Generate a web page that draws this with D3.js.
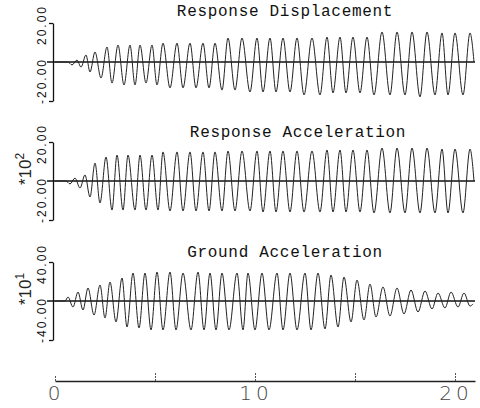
<!DOCTYPE html>
<html><head><meta charset="UTF-8"><title>Response time histories</title>
<script src="https://cdnjs.cloudflare.com/ajax/libs/d3/7.8.5/d3.min.js"></script>
<style>
  body, html { margin: 0; padding: 0; background: #fff; }
  svg { display: block; }
  .title { font-family: "Liberation Mono", "DejaVu Sans Mono", monospace; font-size: 16px; letter-spacing: 0.7px; fill: #111; }
  .ylab { font-family: "Liberation Sans", Arial, sans-serif; font-size: 12px; letter-spacing: 2px; fill: #111; }
  .mult { font-family: "Liberation Sans", Arial, sans-serif; font-size: 17px; fill: #222; }
  .xlab { font-family: "DejaVu Sans", sans-serif; font-size: 20px; font-weight: 200; letter-spacing: 4px; fill: #444; }
</style>
</head>
<body>
<svg id="chart" width="480" height="408"></svg>
<script>
// extremes of each trace: time (s) and value
const dispT = [0, 0.65, 0.85, 1.1, 1.3, 1.55, 1.75, 2.0, 2.3, 2.6, 2.85, 3.15, 3.45, 3.75, 4.0, 4.25, 4.55, 4.85, 5.1, 5.4, 5.75, 6.1, 6.4, 6.75, 7.05, 7.4, 7.7, 8.0, 8.35, 8.65, 9.0, 9.35, 9.75, 10.1, 10.4, 10.75, 11.05, 11.4, 11.75, 12.1, 12.45, 12.85, 13.25, 13.6, 13.9, 14.25, 14.55, 14.9, 15.25, 15.6, 15.95, 16.35, 16.75, 17.1, 17.5, 17.85, 18.25, 18.6, 19.0, 19.35, 19.65, 20.0, 20.4, 20.75, 20.95];
const dispV = [0, 0, -1.5, 1.0, -2.6, 3.6, -5.1, 5.1, -8.2, 7.7, -10.8, 8.7, -11.8, 8.7, -11.8, 8.7, -10.8, 8.7, -11.8, 9.7, -13.3, 9.7, -13.3, 9.7, -13.3, 9.7, -13.3, 9.7, -14.4, 12.3, -14.4, 12.3, -15.4, 12.3, -15.4, 12.3, -15.4, 12.3, -15.4, 12.3, -16.9, 12.3, -16.9, 12.8, -15.9, 12.8, -15.9, 12.8, -15.9, 12.8, -16.9, 15.4, -16.9, 15.4, -16.9, 15.4, -17.9, 15.4, -16.9, 14.9, -16.9, 14.9, -16.9, 14.9, 0];

const accT = [0, 0.55, 0.75, 1.0, 1.25, 1.5, 1.75, 2.0, 2.25, 2.55, 2.85, 3.1, 3.4, 3.65, 4.0, 4.25, 4.55, 4.85, 5.15, 5.4, 5.75, 6.1, 6.4, 6.75, 7.05, 7.4, 7.7, 8.0, 8.35, 8.65, 9.0, 9.35, 9.75, 10.1, 10.4, 10.75, 11.05, 11.4, 11.75, 12.1, 12.45, 12.85, 13.25, 13.6, 13.9, 14.25, 14.55, 14.9, 15.25, 15.6, 15.95, 16.35, 16.75, 17.1, 17.5, 17.85, 18.25, 18.6, 19.0, 19.35, 19.65, 20.0, 20.4, 20.75, 20.95];
const accV = [0, 0, -1.5, 1.5, -3.6, 3.1, -8.2, 9.2, -11.3, 12.3, -14.9, 13.3, -14.9, 13.3, -14.9, 13.3, -14.9, 13.3, -14.9, 14.9, -15.4, 14.9, -15.4, 14.9, -15.4, 14.9, -15.4, 14.9, -15.4, 15.4, -15.4, 15.4, -15.4, 15.4, -15.9, 15.4, -15.9, 15.4, -15.9, 15.4, -15.9, 15.4, -15.9, 15.9, -15.9, 15.9, -15.9, 15.9, -15.9, 15.9, -16.4, 16.9, -16.4, 16.9, -16.4, 16.9, -16.4, 16.9, -16.4, 16.4, -16.4, 16.4, -16.4, 16.4, 0];

const gndT = [0, 0.5, 0.65, 0.9, 1.15, 1.4, 1.65, 1.95, 2.25, 2.5, 2.75, 3.05, 3.35, 3.6, 3.9, 4.2, 4.5, 4.8, 5.1, 5.4, 5.75, 6.05, 6.4, 6.8, 7.15, 7.45, 7.75, 8.05, 8.35, 8.7, 9.1, 9.4, 9.65, 10.0, 10.35, 10.7, 11.1, 11.4, 11.75, 12.1, 12.5, 12.8, 13.15, 13.5, 13.8, 14.15, 14.45, 14.8, 15.1, 15.45, 15.75, 16.05, 16.4, 16.75, 17.1, 17.45, 17.8, 18.15, 18.5, 18.85, 19.15, 19.5, 19.8, 20.15, 20.45, 20.75, 20.9];
const gndV = [0, 0, 4.1, -6.2, 9.2, -9.2, 13.3, -14.4, 16.4, -17.4, 19.5, -21.5, 23.6, -26.7, 28.7, -27.7, 28.7, -29.7, 29.7, -29.7, 29.7, -29.7, 28.7, -29.7, 29.7, -29.7, 28.7, -29.7, 28.7, -29.7, 28.7, -29.7, 28.7, -29.7, 28.7, -29.7, 28.7, -29.7, 28.7, -29.7, 28.7, -29.7, 28.7, -28.7, 26.7, -26.7, 24.6, -21.5, 21.5, -19.5, 17.4, -16.4, 14.4, -15.4, 13.3, -13.3, 11.3, -11.3, 10.3, -8.2, 8.2, -7.2, 9.2, -6.2, 8.2, -5.2, -3];

const titles = ["Response Displacement", "Response Acceleration", "Ground Acceleration"];
const yLimits = [20, 20, 40];
const yTickLabels = [["20.00", "-20.00"], ["20.00", "-20.00"], ["40.00", "-40.00"]];
const multipliers = [null, "2", "1"];
const xTicks = [0, 5, 10, 15, 20];
const xTickLabels = ["0", "10", "20"];

const svg = d3.select("#chart");
const x = d3.scaleLinear().domain([0, 21]).range([55, 475]);

const panels = [
  { t: dispT, v: dispV, top: 23, bottom: 101, titleX: 285, titleY: 16 },
  { t: accT, v: accV, top: 142, bottom: 220, titleX: 298, titleY: 137 },
  { t: gndT, v: gndV, top: 262, bottom: 340, titleX: 285, titleY: 257 }
];

panels.forEach((p, i) => {
  const lim = yLimits[i];
  const y = d3.scaleLinear().domain([-lim, lim]).range([p.bottom, p.top]);
  const g = svg.append("g");

  g.append("text").attr("class", "title")
    .attr("x", p.titleX).attr("y", p.titleY)
    .attr("text-anchor", "middle").text(titles[i]);

  // y axis bracket
  const ax = g.append("g").attr("transform", "translate(53,0)")
    .call(d3.axisLeft(y).tickValues([-lim, lim]).tickSize(4).tickSizeOuter(0).tickFormat(""));
  ax.selectAll("path, line").attr("stroke", "#111").attr("stroke-width", 1.3);

  g.append("text").attr("class", "ylab")
    .attr("transform", `translate(46,${y(lim) + 2}) rotate(-90)`)
    .attr("text-anchor", "middle").text(yTickLabels[i][0]);
  g.append("text").attr("class", "ylab")
    .attr("transform", `translate(46,${y(-lim) + 3}) rotate(-90)`)
    .attr("text-anchor", "start").text(yTickLabels[i][1]);

  if (multipliers[i]) {
    const m = g.append("text").attr("class", "mult")
      .attr("transform", `translate(31,${y(0) - 12}) rotate(-90)`)
      .attr("text-anchor", "middle");
    m.append("tspan").text("*10");
    m.append("tspan").attr("dy", -7).attr("font-size", 12).text(multipliers[i]);
  }

  // zero line
  g.append("line")
    .attr("x1", 47).attr("x2", 475)
    .attr("y1", y(0)).attr("y2", y(0))
    .attr("stroke", "#111").attr("stroke-width", 1.6);

  const pts = p.t.map((t, k) => [t, p.v[k]]);
  const line = d3.line().x(d => x(d[0])).y(d => y(d[1])).curve(d3.curveMonotoneX);
  g.append("path").datum(pts)
    .attr("d", line)
    .attr("fill", "none")
    .attr("stroke", "#222")
    .attr("stroke-width", 1);
});

// time axis
const xa = svg.append("g").attr("transform", "translate(0,381)")
  .call(d3.axisTop(x).tickValues(xTicks).tickSize(9).tickSizeOuter(0).tickFormat(""));
xa.select(".domain").attr("stroke", "#222").attr("stroke-width", 1.4);
xa.selectAll(".tick line").attr("stroke", "#555").attr("stroke-dasharray", "2,1");
xa.selectAll(".tick").filter(d => d === 0).select("line").attr("y2", -5);

svg.selectAll(".xlab").data(xTickLabels).enter().append("text")
  .attr("class", "xlab")
  .attr("x", d => x(+d) + 1)
  .attr("y", 400)
  .attr("text-anchor", "middle")
  .text(d => d);
</script>
</body></html>
